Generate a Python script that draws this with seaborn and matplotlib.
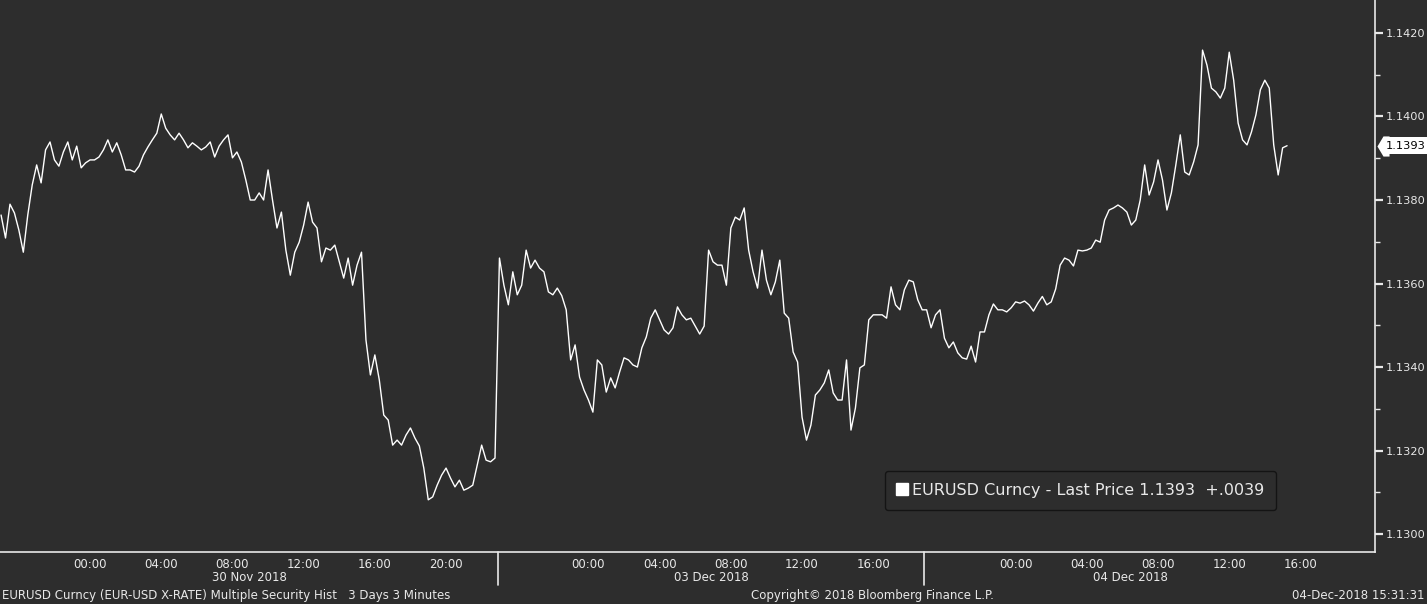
import numpy as np
import pandas as pd
import matplotlib
matplotlib.use("Agg")
import matplotlib.pyplot as plt
from matplotlib.lines import Line2D
from matplotlib.transforms import ScaledTranslation
import seaborn as sns

# EURUSD last price, 15-minute samples
# session 1 = "30 Nov 2018" trading day (Thu 19:00 -> Fri close)
session1_start = "2018-11-29 19:00"
session1_price = [
    1.13764, 1.13709, 1.13790, 1.13769, 1.13728, 1.13675, 1.13764, 1.13836, 1.13884, 1.13841,
    1.13920, 1.13939, 1.13896, 1.13881, 1.13915, 1.13939, 1.13896, 1.13929, 1.13877, 1.13889,
    1.13896, 1.13896, 1.13903, 1.13920, 1.13944, 1.13915, 1.13937, 1.13908, 1.13872, 1.13872,
    1.13867, 1.13881, 1.13908, 1.13927, 1.13944, 1.13960, 1.14006, 1.13972, 1.13956, 1.13944,
    1.13960, 1.13944, 1.13925, 1.13937, 1.13929, 1.13920, 1.13927, 1.13939, 1.13903, 1.13929,
    1.13944, 1.13956, 1.13901, 1.13915, 1.13891, 1.13848, 1.13800, 1.13800, 1.13817, 1.13800,
    1.13872, 1.13800, 1.13733, 1.13771, 1.13680, 1.13620, 1.13675, 1.13699, 1.13740, 1.13795,
    1.13747, 1.13733, 1.13652, 1.13685, 1.13680, 1.13692, 1.13652, 1.13613, 1.13661, 1.13596,
    1.13644, 1.13675, 1.13465, 1.13381, 1.13429, 1.13369, 1.13285, 1.13273, 1.13213, 1.13225,
    1.13213, 1.13237, 1.13254, 1.13230, 1.13211, 1.13158, 1.13082, 1.13089, 1.13117, 1.13141,
    1.13158, 1.13134, 1.13113, 1.13129, 1.13105, 1.13110, 1.13117, 1.13165, 1.13213, 1.13177,
    1.13173, 1.13182,
]
# session 2 = "03 Dec 2018" + "04 Dec 2018" (Sun 19:00 -> Tue 15:15)
session2_start = "2018-12-02 19:00"
session2_price = [
    1.13661, 1.13596, 1.13549, 1.13628, 1.13573, 1.13596, 1.13680, 1.13637, 1.13656, 1.13637,
    1.13628, 1.13580, 1.13573, 1.13589, 1.13571, 1.13537, 1.13417, 1.13453, 1.13376, 1.13345,
    1.13321, 1.13292, 1.13417, 1.13405, 1.13340, 1.13374, 1.13350, 1.13388, 1.13422, 1.13417,
    1.13405, 1.13400, 1.13446, 1.13472, 1.13517, 1.13537, 1.13513, 1.13489, 1.13479, 1.13494,
    1.13544, 1.13525, 1.13513, 1.13517, 1.13498, 1.13479, 1.13498, 1.13680, 1.13652, 1.13644,
    1.13644, 1.13596, 1.13733, 1.13759, 1.13752, 1.13781, 1.13680, 1.13628, 1.13589, 1.13680,
    1.13608, 1.13573, 1.13604, 1.13656, 1.13529, 1.13517, 1.13436, 1.13412, 1.13280, 1.13225,
    1.13261, 1.13333, 1.13345, 1.13362, 1.13393, 1.13338, 1.13321, 1.13321, 1.13417, 1.13249,
    1.13302, 1.13398, 1.13405, 1.13513, 1.13525, 1.13525, 1.13525, 1.13517, 1.13592, 1.13549,
    1.13537, 1.13585, 1.13608, 1.13604, 1.13561, 1.13537, 1.13537, 1.13494, 1.13525, 1.13537,
    1.13469, 1.13446, 1.13460, 1.13434, 1.13422, 1.13419, 1.13450, 1.13412, 1.13484, 1.13484,
    1.13525, 1.13551, 1.13537, 1.13537, 1.13532, 1.13542, 1.13556, 1.13553, 1.13558, 1.13549,
    1.13534, 1.13553, 1.13569, 1.13549, 1.13556, 1.13587, 1.13644, 1.13661, 1.13656, 1.13642,
    1.13680, 1.13678, 1.13680, 1.13685, 1.13704, 1.13699, 1.13752, 1.13776, 1.13781, 1.13788,
    1.13781, 1.13771, 1.13740, 1.13752, 1.13800, 1.13884, 1.13812, 1.13843, 1.13896, 1.13848,
    1.13776, 1.13817, 1.13884, 1.13956, 1.13867, 1.13860, 1.13891, 1.13932, 1.14159, 1.14123,
    1.14068, 1.14059, 1.14044, 1.14068, 1.14154, 1.14087, 1.13984, 1.13944, 1.13932, 1.13963,
    1.14004, 1.14064, 1.14087, 1.14068, 1.13932, 1.13860, 1.13925, 1.13930,
]
prev_close = 1.1354

day_names = ["30 Nov 2018", "03 Dec 2018", "04 Dec 2018"]
day_dates = ["2018-11-30", "2018-12-03", "2018-12-04"]
day_hours = [[0, 4, 8, 12, 16, 20], [0, 4, 8, 12, 16], [0, 4, 8, 12, 16]]
session_breaks = ["2018-11-30 22:55", "2018-12-03 18:52"]
y_ticks = [1.1300, 1.1320, 1.1340, 1.1360, 1.1380, 1.1400, 1.1420]
y_minor = [1.1310, 1.1330, 1.1350, 1.1370, 1.1390, 1.1410]

footer_left = "EURUSD Curncy (EUR-USD X-RATE) Multiple Security Hist   3 Days 3 Minutes"
footer_mid = "Copyright\u00a9 2018 Bloomberg Finance L.P."
footer_right = "04-Dec-2018 15:31:31"

bg = "#2d2d2d"
fg = "#e8e8e8"

# weekend is cut out of the time axis (Fri 23:00 sits on Sun 19:00)
t0 = pd.Timestamp("2018-11-30")


def axis_hours(ts):
    ts = pd.Series(pd.to_datetime(ts))
    h = (ts - t0) / pd.Timedelta(hours=1)
    return np.where(ts >= pd.Timestamp("2018-12-01"), h - 44, h)


t1 = pd.date_range(session1_start, periods=len(session1_price), freq="15min")
t2 = pd.date_range(session2_start, periods=len(session2_price), freq="15min")
df = pd.DataFrame({"time": t1.append(t2), "price": session1_price + session2_price})
df["pos"] = axis_hours(df["time"])

sns.set_theme(style="dark", rc={"axes.facecolor": bg, "figure.facecolor": bg,
                                "axes.grid": False, "text.color": fg,
                                "xtick.color": fg, "ytick.color": fg})
plt.rcParams["font.family"] = ["DejaVu Sans"]

fig = plt.figure(figsize=(14.27, 6.04), dpi=100)
ax = fig.add_axes([0, 1 - 552 / 604, 1375 / 1427, 552 / 604])

sns.lineplot(data=df, x="pos", y="price", ax=ax, color="white", linewidth=1.0,
             estimator=None, sort=False)
ax.set_xlabel("")
ax.set_ylabel("")

for side in ["top", "left"]:
    ax.spines[side].set_visible(False)
for side in ["right", "bottom"]:
    ax.spines[side].set_color(fg)
    ax.spines[side].set_linewidth(1.2)

# x axis: labels every 4 hours inside each day, ticks every 2 hours
major_pos, major_lab = [], []
for d, hours in zip(day_dates, day_hours):
    for hr in hours:
        ts = pd.Timestamp(d) + pd.Timedelta(hours=hr)
        major_pos.append(axis_hours([ts])[0])
        major_lab.append(f"{hr:02d}:00")
ax.set_xticks(major_pos)
ax.set_xticklabels(major_lab)
ax.set_xticks(np.arange(-4, 71, 2), minor=True)
ax.tick_params(axis="x", which="both", direction="out", length=3, width=1,
               color=fg, labelsize=8.5, labelcolor=fg, pad=1.2)

# y axis on the right
ax.yaxis.tick_right()
ax.set_yticks(y_ticks)
ax.set_yticklabels([f"{v:.4f}" for v in y_ticks])
ax.set_yticks(y_minor, minor=True)
ax.tick_params(axis="y", which="major", direction="out", length=6, width=1.6,
               color=fg, labelsize=8.2, labelcolor=fg, pad=2)
ax.tick_params(axis="y", which="minor", direction="out", length=3.5, width=1,
               color=fg)

# limits last, so the tick setters cannot widen them
ax.set_xlim(-5.06, 72.19)
ax.set_ylim(1.12957, 1.14279)

breaks = axis_hours(session_breaks)
xtr = ax.get_xaxis_transform()
for b in breaks:
    ax.plot([b, b], [0, -0.06], transform=xtr, color=fg, lw=1.2, clip_on=False)
edges = [ax.get_xlim()[0], breaks[0], breaks[1], 70]
for name, a, b in zip(day_names, edges[:-1], edges[1:]):
    ax.text((a + b) / 2, -0.0462, name, transform=xtr, ha="center", va="center",
            fontsize=8.5, color=fg)

# last price tag
last = df["price"].iloc[-1]
ytr = ax.get_yaxis_transform()
tip = ytr + ScaledTranslation(8 / 100, 0, fig.dpi_scale_trans)
ax.plot([1.0], [last], transform=tip, marker=[(-0.6, 0), (0, 1), (0.6, 1), (0.6, -1), (0, -1)],
        markersize=14.5, color="white", markeredgewidth=0, clip_on=False)
ax.text(1.0, last, f"{last:.4f}", transform=ytr + ScaledTranslation(11 / 100, 0, fig.dpi_scale_trans),
        ha="left", va="center", fontsize=8.2, color="black",
        bbox=dict(boxstyle="square,pad=0.3", fc="white", ec="none"), clip_on=False)

# legend box
chg = f"{last - prev_close:+.4f}".replace("0.", ".", 1)
label = f"EURUSD Curncy - Last Price {last:.4f}  {chg}"
handle = Line2D([], [], marker="s", color="white", linestyle="none", markersize=9)
leg = ax.legend([handle], [label], loc="lower right", bbox_to_anchor=(1276 / 1375, 42 / 552),
                borderaxespad=0, frameon=True, fancybox=True, fontsize=11.5,
                labelcolor=fg, handlelength=0.7, handletextpad=0.25, borderpad=0.75)
frame = leg.get_frame()
frame.set_facecolor(bg)
frame.set_edgecolor("#141414")
frame.set_alpha(1)
frame.set_linewidth(1.0)

# footer
fy = 1 - 595.5 / 604
fig.text(2 / 1427, fy, footer_left, ha="left", va="center", fontsize=8.5, color=fg)
fig.text(872 / 1427, fy, footer_mid, ha="center", va="center", fontsize=8.5, color=fg)
fig.text(1424 / 1427, fy, footer_right, ha="right", va="center", fontsize=8.5, color=fg)

fig.savefig("out.png", dpi=100, facecolor=bg)
